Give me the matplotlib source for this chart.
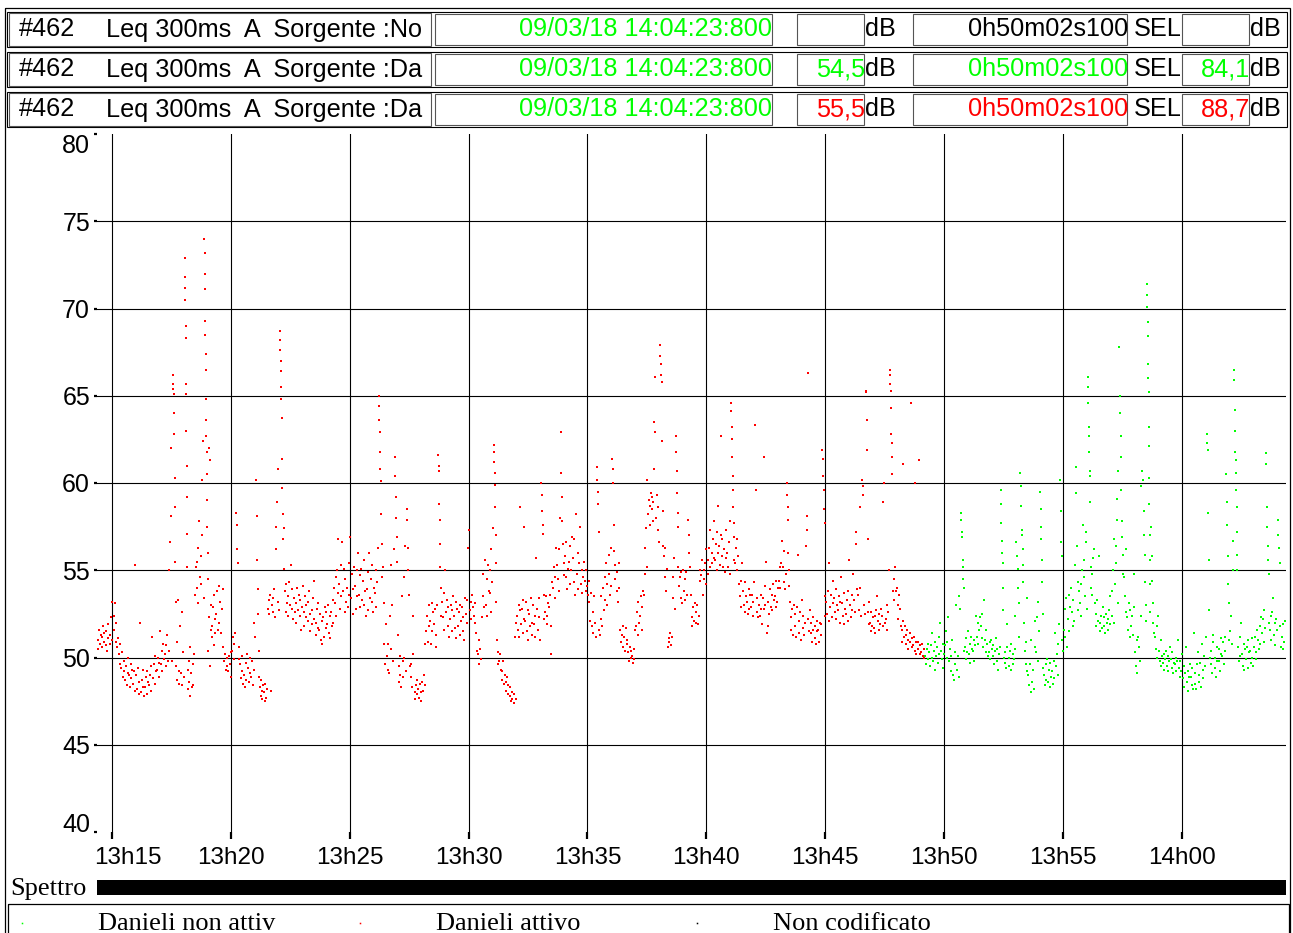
import matplotlib.pyplot as plt
from matplotlib.patches import Rectangle
from matplotlib.transforms import ScaledTranslation

W, H = 1293, 933
BIN_S = 10  # seconds per data bin (values inside a bin are the dots read in that slice)

# time axis: seconds after 13:00:00
t_start = 14 * 60 + 21.7     # 13:14:21.7
t_end = 64 * 60 + 23.8       # 14:04:23.8
red_start = 14 * 60 + 22     # 13:14:22 "Danieli attivo"
green_start = 49 * 60 + 12   # 13:49:12 "Danieli non attivo"

tick_min = [15, 20, 25, 30, 35, 40, 45, 50, 55, 60]
tick_labels = ['13h15', '13h20', '13h25', '13h30', '13h35', '13h40',
               '13h45', '13h50', '13h55', '14h00']
y_ticks = [40, 45, 50, 55, 60, 65, 70, 75, 80]

# Leq 300ms A (dB) - red, one line per minute, one list per 10 s slice
red_db = [
    # 13:14:22
    [51.0, 50.5, 51.6, 50.8, 51.3], [51.2, 50.6, 51.8, 50.9, 51.4], [50.7, 51.5, 50.4, 51.1, 51.9],
    [51.3, 50.8, 52.3, 51.0, 53.2], [52.4, 51.6, 53.1, 50.9, 52.0], [50.6, 51.1, 50.2, 49.6, 50.8],
    # 13:15:22
    [49.4, 50.3, 48.9, 49.8, 49.2], [48.7, 49.5, 48.4, 49.1, 50.0], [49.0, 48.3, 49.6, 48.8, 49.3],
    [48.5, 49.2, 55.3, 48.1, 49.0], [48.2, 49.4, 47.9, 48.6, 52.0], [48.0, 48.7, 49.3, 48.3, 47.8],
    # 13:16:22
    [48.3, 48.9, 47.9, 49.2, 48.6], [48.4, 49.0, 48.1, 49.5, 51.2], [48.8, 49.6, 48.5, 50.1, 49.2],
    [49.3, 50.0, 48.9, 49.7, 51.5], [49.6, 50.4, 49.2, 50.8, 49.9], [50.2, 49.5, 50.7, 51.3, 49.8],
    # 13:17:22
    [50.4, 55.0, 56.6, 58.1, 62.0, 49.8],
    [66.2, 65.7, 65.4, 65.1, 64.0, 62.8, 60.3, 58.6, 55.5, 53.2, 49.5],
    [48.7, 50.9, 53.3, 49.2, 48.5, 51.8], [49.1, 48.4, 52.6, 50.3, 48.9],
    [72.9, 71.8, 71.2, 70.5, 69.0, 68.3, 65.7, 65.1, 63.0, 61.0, 59.2, 57.1, 55.2, 49.3, 48.2],
    [48.6, 49.8, 47.8, 50.6, 49.1, 48.3],
    # 13:18:22
    [49.6, 48.4, 50.2, 53.6, 55.2], [54.0, 55.5, 53.1, 56.3, 57.8, 54.6], [54.2, 55.8, 57.0, 60.2, 62.4, 53.4],
    [74.0, 73.2, 72.0, 71.1, 69.3, 68.5, 67.4, 66.5, 64.8, 63.6, 62.7, 61.8, 60.5, 59.0, 57.5, 56.0, 54.5],
    [50.4, 52.3, 62.0, 49.5, 61.3, 51.6, 53.0, 51.2], [51.8, 52.9, 50.7, 53.6, 52.2, 51.4],
    # 13:19:22
    [52.5, 53.8, 51.6, 54.1, 52.0], [53.2, 51.4, 52.8, 50.6, 53.9], [49.8, 50.2, 49.3, 50.0, 49.5],
    [49.2, 50.1, 49.6, 48.9, 50.3], [50.4, 51.2, 49.9, 50.8, 51.4], [58.3, 57.6, 56.2, 55.4, 50.6, 49.9],
    # 13:20:22
    [49.6, 48.8, 50.1, 49.2, 48.5], [49.0, 48.3, 49.7, 48.7, 50.2], [49.4, 48.6, 50.0, 49.1, 48.9],
    [49.8, 48.4, 52.0, 49.3, 51.2], [60.2, 58.1, 55.6, 53.9, 52.5, 50.4, 48.9],
    [48.3, 47.8, 48.7, 48.1, 47.6, 48.4],
    # 13:21:22
    [48.0, 47.5, 48.5, 47.7, 48.2], [52.8, 53.3, 52.5, 53.6, 48.1], [53.0, 52.6, 53.4, 53.9, 52.3],
    [56.2, 57.5, 58.9, 60.8, 53.2, 52.7],
    [68.7, 68.2, 67.6, 67.0, 66.4, 65.5, 64.8, 63.7, 61.4, 59.7, 58.2, 56.8],
    [57.4, 55.1, 53.8, 52.6, 54.2, 53.1],
    # 13:22:22
    [53.5, 52.4, 54.3, 53.0, 55.3], [52.8, 53.9, 52.2, 53.4, 52.6], [53.1, 52.0, 54.0, 52.7, 53.6],
    [52.4, 53.3, 51.6, 52.9, 54.1], [52.6, 51.8, 53.5, 52.3, 53.0], [53.2, 52.1, 53.8, 52.5, 51.5],
    # 13:23:22
    [52.7, 51.9, 53.4, 52.2, 54.4], [52.0, 51.3, 52.8, 51.7, 53.1], [51.6, 52.5, 51.0, 52.1, 50.8],
    [52.3, 51.2, 52.9, 51.7, 52.6], [51.9, 53.0, 51.4, 52.4, 51.1], [52.6, 51.8, 53.3, 52.0, 54.0],
    # 13:24:22
    [53.1, 54.6, 52.4, 55.0, 53.7, 56.8], [54.2, 52.8, 55.3, 53.5, 56.6], [53.8, 55.1, 52.6, 54.5, 53.2],
    [54.0, 52.9, 55.4, 53.6, 56.9], [53.4, 54.8, 52.5, 53.9, 55.2], [54.1, 52.8, 53.5, 55.0, 56.0],
    # 13:25:22
    [53.6, 54.7, 52.9, 55.1, 53.3], [54.4, 53.0, 55.6, 53.8, 52.4], [53.9, 54.9, 52.7, 56.0, 53.4],
    [54.5, 53.2, 55.3, 52.6, 54.0], [53.7, 55.0, 52.9, 54.3, 56.3],
    [65.0, 64.4, 63.6, 62.9, 61.8, 60.8, 60.1, 58.2, 56.5, 54.6],
    # 13:26:22
    [55.2, 53.1, 50.8, 49.6, 51.9], [50.1, 49.3, 50.8, 49.1, 52.4], [50.5, 55.3, 53.0, 49.8, 56.2],
    [61.5, 60.4, 59.2, 58.0, 56.9, 55.5, 51.3], [49.5, 48.6, 50.1, 49.0, 48.3, 53.5],
    [49.8, 48.9, 50.0, 54.6, 56.4, 49.2],
    # 13:27:22
    [58.5, 57.9, 56.3, 55.0, 53.6, 49.5], [48.9, 49.6, 48.3, 50.2, 52.4], [48.0, 47.6, 48.4, 47.9, 48.7],
    [48.2, 47.7, 48.5, 48.0, 47.5], [48.6, 48.1, 49.0, 48.4, 50.8], [51.5, 52.4, 50.9, 53.0, 51.8],
    # 13:28:22
    [52.1, 50.8, 53.1, 51.5, 52.6], [51.9, 52.8, 50.6, 51.3, 53.0],
    [61.6, 61.0, 60.7, 58.8, 57.9, 56.5, 55.2, 54.0, 52.4],
    [53.2, 52.3, 53.7, 51.6, 55.0], [52.6, 53.3, 51.8, 52.9, 51.2], [52.2, 53.0, 51.5, 52.7, 53.5],
    # 13:29:22
    [52.4, 51.7, 53.2, 51.1, 52.8], [51.8, 52.6, 51.3, 53.0, 52.1], [52.9, 51.5, 52.3, 51.0, 53.4],
    [52.5, 53.3, 52.0, 56.3, 57.3], [52.7, 53.2, 52.2, 53.6, 52.9], [52.4, 53.1, 52.0, 51.4, 50.4],
    # 13:30:22
    [50.2, 49.6, 51.0, 50.5, 49.9], [52.3, 53.5, 54.8, 52.9, 55.6], [53.0, 54.5, 52.4, 55.3, 53.8],
    [53.7, 55.0, 56.2, 52.6, 54.3, 57.4],
    [62.2, 61.8, 61.2, 60.6, 59.9, 58.6, 57.0, 55.4, 53.2, 51.0],
    [49.6, 50.3, 49.8, 50.2, 49.3],
    # 13:31:22
    [49.2, 48.7, 49.8, 48.5, 49.0], [48.6, 48.1, 48.9, 47.9, 48.4], [47.8, 48.3, 47.5, 48.0, 47.6],
    [47.4, 47.9, 51.2, 52.0, 47.6], [52.4, 51.6, 53.0, 51.2, 52.7, 58.6], [51.9, 52.8, 51.4, 53.3, 52.2, 57.5],
    # 13:32:22
    [52.1, 53.2, 51.5, 52.7, 51.0], [52.5, 51.8, 53.4, 52.0, 51.3], [53.0, 51.9, 52.4, 51.2, 55.7],
    [52.8, 51.6, 53.4, 52.3, 51.0], [60.0, 59.3, 58.4, 57.6, 57.1, 53.6, 52.2],
    [52.6, 53.5, 51.9, 52.4, 53.1],
    # 13:33:22
    [52.9, 53.6, 51.8, 50.2, 54.3], [54.0, 55.2, 53.4, 54.6, 56.3], [55.3, 54.5, 56.2, 53.8, 58.0],
    [62.9, 60.6, 59.2, 57.8, 56.5, 55.4, 54.7], [55.8, 54.6, 56.6, 53.9, 55.1],
    [55.5, 56.4, 54.2, 55.0, 56.9],
    # 13:34:22
    [55.7, 54.3, 56.8, 53.6, 58.2], [54.8, 56.0, 53.9, 55.4, 57.5], [54.2, 55.0, 53.7, 54.6, 55.5],
    [54.4, 53.8, 55.0, 54.1, 53.6], [53.2, 54.4, 52.1, 53.7, 51.8], [52.6, 51.4, 53.5, 52.0, 51.2],
    # 13:35:22
    [60.9, 60.2, 59.5, 58.8, 57.2, 51.6, 51.3], [52.2, 53.5, 51.8, 54.0, 52.7],
    [53.3, 54.6, 55.4, 53.0, 54.2], [54.8, 55.9, 53.6, 56.3, 54.1],
    [61.4, 60.8, 60.0, 57.6, 56.1, 55.3, 54.5], [53.8, 54.9, 53.2, 55.4, 54.0],
    # 13:36:22
    [51.6, 50.9, 51.3, 50.6, 51.8], [51.2, 50.4, 51.7, 50.8, 51.0], [50.3, 49.8, 50.6, 50.0, 50.4],
    [50.1, 49.7, 50.5, 49.9, 51.6], [51.8, 52.6, 51.3, 53.2, 52.0], [52.4, 53.5, 51.6, 52.9, 53.8],
    # 13:37:22
    [53.6, 54.8, 56.3, 57.4, 55.2, 60.2], [58.2, 59.0, 57.6, 58.7, 59.4],
    [58.5, 59.2, 57.8, 58.9, 60.8, 63.5, 62.9, 66.1], [58.0, 59.3, 57.3, 58.6, 56.6],
    [67.9, 67.3, 66.8, 66.2, 65.8, 62.4, 58.4, 56.4], [55.8, 54.6, 56.3, 53.8, 55.1],
    # 13:38:22
    [50.6, 51.1, 50.9, 51.4, 50.7], [51.2, 53.4, 54.6, 55.7, 52.8],
    [62.7, 61.8, 60.7, 59.4, 58.3, 57.5, 55.2, 54.1],
    [54.6, 53.4, 54.9, 53.1, 55.0], [53.8, 54.5, 53.3, 54.9, 53.6], [57.9, 57.0, 56.0, 55.2, 53.6],
    # 13:39:22
    [52.3, 51.8, 52.9, 52.1, 53.1], [52.6, 52.0, 53.0, 51.9, 52.4], [54.4, 55.0, 54.7, 55.6, 53.6],
    [55.0, 54.5, 55.4, 54.2, 56.2], [55.6, 54.8, 56.3, 55.2, 57.3], [56.0, 55.4, 56.8, 55.7, 57.8],
    # 13:40:22
    [55.6, 56.5, 55.0, 57.2, 56.0, 58.7], [56.4, 55.3, 57.0, 62.7, 55.8, 56.8],
    [55.2, 56.2, 54.9, 57.3, 55.7], [56.0, 55.2, 56.6, 54.8, 57.8],
    [64.6, 64.1, 63.2, 62.5, 61.5, 60.4, 59.6, 58.6, 57.7, 56.9, 55.6],
    [55.4, 56.3, 55.0, 56.8, 55.8],
    # 13:41:22
    [54.2, 53.5, 54.4, 52.9, 55.4], [53.8, 53.0, 54.3, 52.6, 53.5], [53.2, 52.5, 53.9, 52.8, 53.6],
    [52.9, 53.6, 52.4, 53.2, 54.3], [63.3, 59.6, 52.6, 53.4, 52.3], [53.0, 52.4, 53.6, 52.8, 51.9],
    # 13:42:22
    [53.4, 52.8, 61.5, 54.1, 53.0, 55.5], [51.4, 51.8, 53.2, 52.5, 53.9], [52.9, 53.6, 52.7, 54.2, 53.3],
    [53.5, 52.9, 54.4, 53.2, 54.0], [54.4, 55.2, 54.0, 55.4, 56.7], [55.2, 54.3, 56.1, 53.9, 54.8],
    # 13:43:22
    [60.0, 59.3, 58.6, 57.9, 56.0, 55.0, 54.1, 53.2], [52.3, 51.6, 52.8, 51.3, 53.0],
    [51.8, 52.5, 51.2, 52.9, 55.9], [52.1, 51.4, 52.6, 51.0, 53.3], [51.7, 52.4, 51.3, 52.0, 56.4],
    [58.1, 57.3, 66.3, 52.2, 51.5, 52.7],
    # 13:44:22
    [51.4, 52.0, 50.9, 51.6, 52.3], [51.1, 51.8, 50.8, 51.5, 52.1], [51.6, 50.9, 52.0, 51.3, 51.9],
    [61.9, 61.4, 60.4, 59.6, 58.5, 57.7, 52.4, 53.5], [53.2, 52.5, 53.8, 52.1, 55.4],
    [52.9, 53.6, 52.3, 53.1, 54.4],
    # 13:45:22
    [53.4, 52.6, 53.9, 52.2, 53.0], [52.7, 53.5, 52.0, 53.2, 54.6], [53.1, 52.4, 53.7, 51.9, 52.8],
    [52.5, 53.3, 52.1, 53.8, 55.6], [53.0, 52.3, 53.6, 52.7, 54.8], [53.3, 52.6, 57.2, 56.5, 53.9],
    # 13:46:22
    [53.6, 52.7, 54.0, 58.6, 52.4], [60.2, 59.8, 59.3, 53.0, 52.5],
    [65.3, 65.2, 63.6, 61.9, 56.8, 52.6, 51.9, 53.2],
    [52.0, 51.5, 52.6, 51.8, 52.3], [51.7, 52.4, 51.4, 52.7, 53.5], [52.1, 51.6, 52.5, 51.9, 52.8],
    # 13:47:22
    [52.4, 51.8, 58.9, 60.0, 52.0], [52.2, 53.0, 51.6, 52.6, 55.0],
    [66.5, 66.2, 65.7, 65.3, 64.3, 62.8, 62.3, 61.5, 60.5, 53.8],
    [54.5, 53.3, 55.2, 53.8, 54.0], [53.0, 52.2, 53.6, 52.8, 51.8], [51.6, 50.9, 61.1, 52.1, 51.2, 51.8],
    # 13:48:22
    [51.3, 50.8, 51.6, 50.5, 51.0], [50.9, 51.4, 64.6, 51.1, 50.6], [50.7, 51.2, 60.0, 50.4, 50.9, 50.2],
    [50.5, 50.9, 61.3, 50.2, 50.7], [50.3, 50.8, 50.1, 50.5, 50.0],
]

# Leq 300ms A (dB) - green
green_db = [
    # 13:49:12
    [50.1, 49.6, 50.5, 49.9, 50.8], [50.3, 49.5, 50.7, 50.0, 51.4], [49.8, 50.4, 49.3, 50.9, 50.1],
    [50.6, 49.7, 51.2, 50.2, 52.0], [50.4, 49.9, 50.8, 49.4, 50.2], [50.7, 51.5, 50.0, 50.9, 52.3],
    # 13:50:12
    [49.8, 50.5, 49.2, 50.1, 51.0], [49.0, 48.7, 49.6, 50.3, 53.0], [49.3, 50.1, 48.9, 53.5, 52.8],
    [58.3, 57.9, 57.2, 56.9, 55.6, 55.2, 54.5, 54.0, 50.4], [50.6, 49.9, 51.1, 50.3, 51.5],
    [50.2, 50.8, 49.7, 51.2, 50.5],
    # 13:51:12
    [50.4, 51.0, 49.8, 50.7, 52.4], [51.2, 52.0, 50.8, 51.6, 52.3], [51.8, 52.5, 51.1, 50.6, 53.3],
    [51.0, 50.3, 51.6, 50.8, 50.1], [50.3, 50.9, 49.9, 51.0, 50.5], [50.1, 50.7, 49.6, 50.4, 51.1],
    # 13:52:12
    [49.8, 50.5, 49.3, 50.2, 50.6], [59.6, 58.8, 57.7, 56.7, 56.0, 55.4, 54.0, 52.7, 50.0],
    [49.7, 50.3, 49.4, 50.6, 51.9], [50.0, 49.5, 50.4, 49.3, 50.8], [49.6, 50.2, 49.9, 52.4, 50.5],
    [56.6, 55.8, 55.1, 54.0, 53.1, 51.2],
    # 13:53:12
    [60.6, 59.8, 58.7, 57.3, 57.0, 56.2, 55.3, 54.3], [52.0, 50.4, 49.6, 50.9, 49.2, 53.4],
    [49.0, 48.4, 49.6, 48.0, 51.0], [48.6, 49.3, 48.2, 52.1, 50.6], [50.3, 52.3, 53.2, 49.8, 51.5],
    [59.5, 58.5, 57.5, 56.8, 55.6, 54.3, 52.5, 49.4],
    # 13:54:12
    [49.0, 48.4, 49.6, 48.7, 49.9], [48.6, 49.3, 48.3, 49.7, 48.9], [49.2, 48.5, 49.8, 48.8, 51.4],
    [49.5, 50.2, 49.0, 50.8, 51.9], [60.2, 58.4, 56.6, 55.8, 51.0, 50.4], [51.6, 52.8, 51.2, 53.4, 50.6],
    # 13:55:12
    [52.2, 53.6, 51.5, 52.9, 54.0], [52.6, 51.8, 53.3, 52.1, 55.3], [60.9, 59.4, 56.4, 54.3, 52.7, 53.8],
    [53.1, 54.2, 52.4, 55.0, 57.6], [55.6, 54.6, 53.5, 56.6, 57.2, 52.8],
    [66.1, 65.5, 64.6, 63.2, 62.7, 61.8, 60.7, 60.4, 58.9, 55.2, 54.0],
    # 13:56:12
    [54.8, 53.6, 55.7, 56.2, 53.1], [52.5, 51.8, 53.3, 52.1, 55.8], [52.0, 51.5, 52.4, 51.7, 52.9],
    [51.8, 52.3, 51.4, 52.5, 52.0], [52.2, 51.6, 52.7, 51.9, 53.5], [52.4, 53.8, 55.0, 52.0, 56.8],
    # 13:57:12
    [54.2, 55.4, 56.4, 57.9, 59.1, 60.7, 53.1], [67.8, 65.0, 64.0, 62.7, 61.5, 59.6, 57.8, 56.9, 54.8],
    [55.9, 54.6, 53.5, 56.2, 52.6], [52.3, 51.6, 53.1, 51.2, 52.7], [51.8, 52.4, 51.3, 52.9, 54.8],
    [50.3, 49.5, 51.0, 49.1, 51.2],
    # 13:58:12
    [50.6, 49.8, 52.4, 59.8, 60.7], [60.2, 58.4, 57.0, 55.9, 54.3, 53.0, 52.1],
    [71.4, 70.8, 70.1, 69.2, 68.4, 66.8, 66.0, 65.2, 63.2, 62.1, 60.3, 58.8, 57.0, 55.6, 54.2, 52.6],
    [57.5, 55.8, 54.4, 53.1, 52.0, 51.4], [51.2, 50.5, 51.8, 50.0, 52.4], [50.4, 49.8, 51.0, 49.5, 50.1],
    # 13:59:12
    [49.7, 50.2, 49.3, 49.9, 50.4], [49.5, 50.1, 49.2, 49.8, 50.6], [49.9, 49.4, 50.3, 49.1, 49.7],
    [49.6, 50.0, 49.2, 49.8, 51.0], [49.4, 48.9, 49.8, 49.2, 50.2], [48.8, 49.5, 48.3, 49.1, 50.6],
    # 14:00:12
    [48.6, 49.2, 48.1, 48.9, 49.6], [48.9, 48.4, 49.4, 48.2, 51.4], [48.5, 49.1, 48.2, 49.6, 50.3],
    [49.0, 48.6, 49.7, 48.3, 50.8], [49.3, 48.8, 50.1, 49.5, 51.2], [62.8, 62.3, 61.9, 58.3, 55.6, 52.7, 50.0],
    # 14:01:12
    [49.6, 50.4, 49.1, 50.9, 51.3], [49.4, 50.0, 48.9, 50.6, 49.8], [49.8, 50.5, 49.2, 51.1, 50.2],
    [50.1, 50.9, 49.6, 51.2, 50.4], [60.5, 58.9, 57.6, 55.8, 54.2, 53.1, 51.0], [51.5, 52.4, 50.8, 55.0, 56.7],
    # 14:02:12
    [66.5, 65.9, 64.2, 63.0, 61.8, 61.3, 60.6, 59.6, 58.6, 57.2, 55.9, 55.0],
    [50.6, 49.8, 51.2, 50.1, 52.0], [50.2, 49.5, 50.8, 49.3, 50.5], [49.9, 50.6, 49.4, 51.0, 50.3],
    [50.4, 49.7, 51.1, 50.0, 49.5], [50.6, 51.2, 49.9, 50.3, 51.6],
    # 14:03:12
    [51.0, 50.5, 51.8, 50.8, 52.3], [51.4, 52.2, 50.9, 52.7, 51.7],
    [61.7, 61.1, 58.6, 57.5, 56.4, 55.6, 54.8, 52.0],
    [51.6, 52.4, 51.0, 52.6, 53.4], [51.3, 52.0, 50.7, 52.2, 51.6], [57.9, 57.0, 56.3, 55.4, 51.8, 50.6],
    # 14:04:12
    [51.2, 50.5, 51.9, 50.9, 52.1],
]

# header rows
row_source = ['No', 'Da', 'Da']
row_leq = ['', '54,5', '55,5']
row_sel = ['', '84,1', '88,7']
row_color = ['black', '#00ff00', '#ff0000']
date_text = '09/03/18 14:04:23:800'
dur_text = '0h50m02s100'

legend_names = ['Danieli non attiv', 'Danieli attivo', 'Non codificato']
legend_colors = ['#00ff00', '#ff0000', 'black']

RED = '#ff0000'
GREEN = '#00ff00'


def bin_points(start, bins):
    """Spread the dots of each 10 s slice across that slice"""
    xs, ys = [], []
    for i, vals in enumerate(bins):
        n = len(vals)
        for j, v in enumerate(vals):
            xs.append(start + i * BIN_S + BIN_S * (0.05 + 0.9 * (j + 0.5) / n))
            ys.append(v)
    return xs, ys


plt.rcParams['font.family'] = ['Liberation Sans', 'DejaVu Sans']

fig = plt.figure(figsize=(W / 100, H / 100), dpi=100)

# overlay in pixel coordinates for the report frame
ov = fig.add_axes([0, 0, 1, 1], zorder=0)
ov.set_xlim(0, W)
ov.set_ylim(H, 0)
ov.axis('off')


def box(x0, y0, x1, y1, lw=0.8, ec='black'):
    ov.add_patch(Rectangle((x0, y0), x1 - x0, y1 - y0, fill=False, ec=ec, lw=lw))


# outer frame
box(5, 8, 1290, 945, lw=0.9)

row_tops = [12, 52, 92]
for k, top in enumerate(row_tops):
    bot = top + 35
    cy = top + 17.5
    box(7, top, 1287, bot)
    box(9, top + 1, 431, bot - 1, ec='#555555')
    box(435, top + 2, 772, bot - 2, ec='#555555')
    box(797, top + 2, 864, bot - 2, ec='#555555')
    box(913, top + 2, 1127, bot - 2, ec='#555555')
    box(1182, top + 2, 1249, bot - 2, ec='#555555')
    fs = 18.2
    ov.text(19, cy, '#462', fontsize=fs, va='center', ha='left')
    ov.text(106, cy, 'Leq 300ms  A  Sorgente :' + row_source[k], fontsize=fs,
            va='center', ha='left')
    ov.text(772, cy, date_text, fontsize=fs, va='center', ha='right', color=GREEN)
    ov.text(865, cy, row_leq[k], fontsize=fs, va='center', ha='right', color=row_color[k])
    ov.text(865, cy, 'dB', fontsize=fs, va='center', ha='left')
    ov.text(1128, cy, dur_text, fontsize=fs, va='center', ha='right', color=row_color[k])
    ov.text(1134, cy, 'SEL', fontsize=fs, va='center', ha='left')
    ov.text(1250, cy, row_sel[k], fontsize=fs, va='center', ha='right', color=row_color[k])
    ov.text(1250, cy, 'dB', fontsize=fs, va='center', ha='left')

# spectrum bar
ov.add_patch(Rectangle((97, 880), 1189, 15, color='black', lw=0))
ov.text(10, 895, 'Spettro', fontsize=19, family='Liberation Serif', va='baseline', ha='left')

# legend
box(8, 904, 1289, 950, lw=0.9)
for name, col, mx, tx in zip(legend_names, legend_colors, [22, 360, 697], [98, 436, 773]):
    ov.plot([mx], [923], marker='s', ms=1.1, mew=0, color=col, linestyle='none')
    ov.text(tx, 930, name, fontsize=19, family='Liberation Serif', va='baseline', ha='left')

# main chart
ax = fig.add_axes([97 / W, 1 - 832 / H, 1189 / W, 698 / H], zorder=1)
ax.patch.set_alpha(0)
ax.set_xlim(t_start, t_end)
ax.set_ylim(40, 80)
for s in ax.spines.values():
    s.set_visible(False)

tick_secs = [m * 60 for m in tick_min]
for y in y_ticks[1:-1]:
    ax.axhline(y, color='black', lw=0.8, zorder=1)
for t in tick_secs:
    ax.axvline(t, color='black', lw=0.8, zorder=1)

rx, ry = bin_points(red_start, red_db)
gx, gy = bin_points(green_start, green_db)
ax.plot(rx, ry, linestyle='none', marker='s', ms=1.9, mew=0, color=RED, zorder=2)
ax.plot(gx, gy, linestyle='none', marker='s', ms=1.9, mew=0, color=GREEN, zorder=2)

ax.set_xticks(tick_secs, tick_labels)
ax.set_yticks(y_ticks, [str(v) for v in y_ticks])
ax.tick_params(axis='x', length=5, width=1.6, pad=6, labelsize=17.5)
ax.tick_params(axis='y', length=2, width=1.6, pad=3, labelsize=18)

ylabs = ax.get_yticklabels()
ylabs[0].set_va('baseline')
ylabs[-1].set_va('top')
xlabs = ax.get_xticklabels()
xlabs[0].set_transform(xlabs[0].get_transform() + ScaledTranslation(0.16, 0, fig.dpi_scale_trans))

fig.savefig('out.png', dpi=100)
